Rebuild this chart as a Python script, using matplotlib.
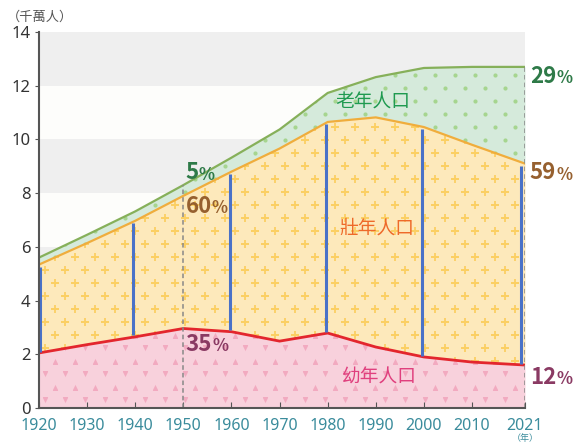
import matplotlib
matplotlib.use('Agg')
import matplotlib.pyplot as plt
import numpy as np

plt.rcParams['font.family'] = ['Noto Sans CJK TC', 'DejaVu Sans']

# population in units of 10 million (千萬人), stacked boundaries
years = [1920, 1930, 1940, 1950, 1960, 1970, 1980, 1990, 2000, 2010, 2021]
young = [2.05, 2.36, 2.65, 2.96, 2.84, 2.49, 2.79, 2.27, 1.90, 1.71, 1.60]
young_working = [5.34, 6.14, 6.97, 7.90, 8.80, 9.66, 10.65, 10.82, 10.46, 9.80, 9.10]
total = [5.60, 6.45, 7.32, 8.30, 9.32, 10.37, 11.73, 12.32, 12.66, 12.70, 12.70]

bar_years = [1920, 1940, 1960, 1980, 2000, 2021]
xtick_years = [1920, 1930, 1940, 1950, 1960, 1970, 1980, 1990, 2000, 2010, 2021]
yticks = [0, 2, 4, 6, 8, 10, 12, 14]

share_1950 = ['5', '60', '35']
share_2021 = ['29', '59', '12']

c_old, c_mid, c_young = '#2e7a48', '#96602f', '#8a3a63'

fig = plt.figure(figsize=(5.88, 4.43), dpi=100)
ax = fig.add_axes([0.0663, 0.079, 0.8265, 0.8488])
ax.set_xlim(1920, 2021)
ax.set_ylim(0, 14)

# alternating background bands
for lo in range(0, 14, 2):
    shade = '#efefef' if (lo // 2) % 2 == 0 else '#fdfdfb'
    ax.axhspan(lo, lo + 2, color=shade, zorder=0, lw=0)

yrs = np.array(years, dtype=float)
y0 = np.array(young)
y1 = np.array(young_working)
y2 = np.array(total)

f_young = ax.fill_between(yrs, 0, y0, color='#f8d1dc', lw=0, zorder=1)
f_mid = ax.fill_between(yrs, y0, y1, color='#fde9bb', lw=0, zorder=1)
f_old = ax.fill_between(yrs, y1, y2, color='#d5eadb', lw=0, zorder=1)

# decorative marker patterns, built on a pixel grid and clipped to each band
fig.canvas.draw()
inv = ax.transData.inverted()
bbox = ax.get_window_extent()
dx, dy = 20, 13
gx = np.arange(bbox.x0 + 6, bbox.x1, dx)
gy = np.arange(bbox.y0 + 8, bbox.y1, dy)


def pattern(coll, marker_fn, color, size):
    path = coll.get_paths()[0]
    for j, py in enumerate(gy):
        off = 0 if j % 2 == 0 else dx / 2
        pts = inv.transform(np.column_stack([gx + off, np.full_like(gx, py)]))
        m = marker_fn(j)
        sc = ax.scatter(pts[:, 0], pts[:, 1], marker=m, s=size, color=color,
                        lw=1.3 if m == '+' else 0, zorder=2)
        sc.set_clip_path(path, ax.transData)


pattern(f_young, lambda j: 'v' if j % 2 == 0 else '^', '#f2aac0', 14)
pattern(f_mid, lambda j: '+', '#fbcf63', 30)
pattern(f_old, lambda j: 'o', '#a6d58f', 9)

ax.plot(yrs, y2, color='#86b05a', lw=1.6, zorder=3)
ax.plot(yrs, y1, color='#f0ad3c', lw=1.6, zorder=3)
ax.plot(yrs, y0, color='#e3262d', lw=2.0, zorder=3)

# blue working-age bars
for yr in bar_years:
    lo = np.interp(yr, yrs, y0)
    hi = np.interp(yr, yrs, y1)
    xb = yr - 0.4 if yr > 1920 else yr + 0.2
    if yr == 2021:
        xb = yr - 0.9
    ax.vlines(xb, lo + 0.05, hi - 0.08, color='#4a72c8', lw=2.2, zorder=4)

# dashed reference lines
for yr in (1950, 2021):
    ax.vlines(yr, 0, np.interp(yr, yrs, y2), color='#888888', lw=1.1,
              linestyles=(0, (3, 2)), zorder=4)


def pct(x, y, num, color):
    t = ax.text(x, y, num, color=color, fontsize=16, fontweight='bold',
                ha='left', va='center', zorder=5, clip_on=False)
    fig.canvas.draw()
    ext = t.get_window_extent()
    xe = inv.transform((ext.x1, ext.y0))[0]
    ax.text(xe, y - 0.06, '%', color=color, fontsize=12, fontweight='bold',
            ha='left', va='center', zorder=5, clip_on=False)


pct(1950.5, np.interp(1950, yrs, y2) + 0.45, share_1950[0], c_old)
pct(1950.5, np.interp(1950, yrs, y1) - 0.38, share_1950[1], c_mid)
pct(1950.5, np.interp(1950, yrs, y0) - 0.58, share_1950[2], c_young)

pct(2022.0, 12.36, share_2021[0], c_old)
pct(2022.0, 8.75, share_2021[1], c_mid)
pct(2022.0, 1.15, share_2021[2], c_young)

# region labels
ax.text(1989.4, 11.39, '老年人口', color='#1f9a50', fontsize=13.5, ha='center', va='center', zorder=5)
ax.text(1990.3, 6.7, '壯年人口', color='#ee6a2a', fontsize=13.5, ha='center', va='center', zorder=5)
ax.text(1990.5, 1.15, '幼年人口', color='#e0407e', fontsize=13.5, ha='center', va='center', zorder=5)

# axes styling
for s in ('top', 'right'):
    ax.spines[s].set_visible(False)
for s in ('left', 'bottom'):
    ax.spines[s].set_color('#555555')
    ax.spines[s].set_linewidth(1.5)
    ax.spines[s].set_zorder(6)

ax.set_xticks(xtick_years)
ax.set_xticklabels([str(v) for v in xtick_years], color='#3b8c9c', fontsize=11.5,
                   family='Noto Sans')
ax.tick_params(axis='x', direction='in', length=4, color='#555555', pad=7)
ax.set_yticks(yticks)
ax.set_yticklabels([str(v) for v in yticks], color='#333333', fontsize=12,
                   family='Noto Sans')
ax.tick_params(axis='y', direction='out', length=3, color='#555555', pad=3)

fig.text(0.012, 0.962, '（千萬人）', color='#555555', fontsize=9.5, ha='left', va='center')
fig.text(0.893, 0.0, '（年）', color='#3b8c9c', fontsize=6.5, ha='center', va='bottom')

fig.savefig('out.png', dpi=100, facecolor='white')
